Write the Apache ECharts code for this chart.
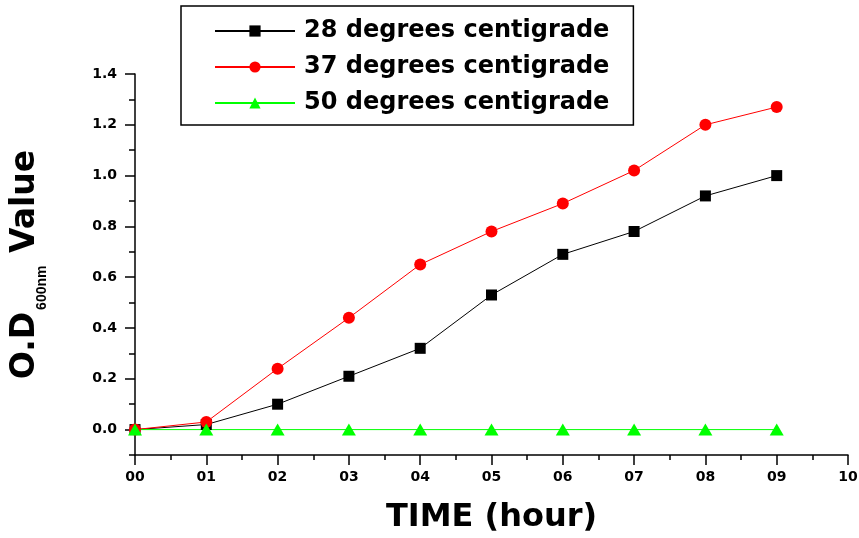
<!DOCTYPE html>
<html>
<head>
<meta charset="utf-8">
<script src="https://cdn.jsdelivr.net/npm/echarts@6/dist/echarts.min.js"></script>
<style>
  html, body { margin: 0; padding: 0; background: #fff; }
  #chart { width: 859px; height: 538px; }
</style>
</head>
<body>
<div id="chart"></div>
<script>
// Bacterial growth (optical density) over time at three temperatures
const hours = [0, 1, 2, 3, 4, 5, 6, 7, 8, 9];
const od28 = [0.00, 0.02, 0.10, 0.21, 0.32, 0.53, 0.69, 0.78, 0.92, 1.00];
const od37 = [0.00, 0.03, 0.24, 0.44, 0.65, 0.78, 0.89, 1.02, 1.20, 1.27];
const od50 = [0.00, 0.00, 0.00, 0.00, 0.00, 0.00, 0.00, 0.00, 0.00, 0.00];
const seriesNames = ['28 degrees centigrade', '37 degrees centigrade', '50 degrees centigrade'];
const yMajorTicks = [0.0, 0.2, 0.4, 0.6, 0.8, 1.0, 1.2, 1.4];

const FONT = 'DejaVu Sans';
const pair = (xs, ys) => xs.map((x, i) => [x, ys[i]]);

const chart = echarts.init(document.getElementById('chart'), null, { renderer: 'canvas' });

const axisBlack = { color: '#000', width: 1.5 };

chart.setOption({
  animation: false,
  backgroundColor: '#fff',
  grid: { left: 135, right: 11, top: 74, bottom: 83, outerBoundsMode: 'none', containLabel: false },
  legend: {
    orient: 'vertical',
    left: 181,
    top: 6,
    padding: [11, 24, 8, 33],
    itemGap: 8,
    itemWidth: 80,
    itemHeight: 14,
    borderColor: '#000',
    borderWidth: 1.5,
    textStyle: { fontFamily: FONT, fontWeight: 'bold', fontSize: 24, color: '#000', lineHeight: 28, padding: [0, 0, 0, 4] },
    data: seriesNames
  },
  xAxis: {
    type: 'value',
    min: 0,
    max: 10,
    interval: 1,
    name: 'TIME (hour)',
    nameLocation: 'middle',
    nameGap: 47,
    nameTextStyle: { fontFamily: FONT, fontWeight: 'bold', fontSize: 32, color: '#000' },
    axisLine: { onZero: false, lineStyle: axisBlack },
    axisTick: { length: 10, lineStyle: axisBlack },
    minorTick: { show: true, splitNumber: 2, length: 5, lineStyle: { color: '#000', width: 1.5 } },
    splitLine: { show: false },
    axisLabel: {
      margin: 15,
      fontFamily: FONT, fontWeight: 'bold', fontSize: 14, color: '#000',
      formatter: v => String(v).padStart(2, '0')
    }
  },
  yAxis: [
    {
      // axis line and the short 0.1-step ticks
      type: 'value',
      min: -0.1,
      max: 1.4,
      interval: 0.1,
      axisLine: { show: true, onZero: false, lineStyle: axisBlack },
      axisTick: { show: true, length: 6, lineStyle: axisBlack },
      axisLabel: { show: false },
      splitLine: { show: false }
    },
    {
      // long ticks and labels every 0.2
      type: 'value',
      position: 'left',
      min: -0.1,
      max: 1.4,
      axisLine: { show: false, onZero: false },
      axisTick: { show: true, length: 10, lineStyle: axisBlack, customValues: yMajorTicks },
      axisLabel: {
        margin: 18,
        fontFamily: FONT, fontWeight: 'bold', fontSize: 14, color: '#000',
        customValues: yMajorTicks,
        formatter: v => v.toFixed(1)
      },
      splitLine: { show: false },
      name: '{a|O.D}{b|600nm}{a| Value}',
      nameLocation: 'middle',
      nameRotate: 90,
      nameGap: 90,
      nameTextStyle: {
        rich: {
          a: { fontFamily: FONT, fontWeight: 'bold', fontSize: 33, color: '#000', lineHeight: 36, verticalAlign: 'top' },
          b: { fontFamily: 'Liberation Sans', fontWeight: 'bold', fontSize: 14, color: '#000', lineHeight: 14, padding: [26, 1, 0, 2], verticalAlign: 'top' }
        }
      }
    }
  ],
  series: [
    {
      name: seriesNames[0], type: 'line', data: pair(hours, od28),
      symbol: 'rect', symbolSize: 11,
      lineStyle: { color: '#000', width: 1 },
      itemStyle: { color: '#000' }
    },
    {
      name: seriesNames[1], type: 'line', data: pair(hours, od37),
      symbol: 'circle', symbolSize: 12,
      lineStyle: { color: '#ff0000', width: 1 },
      itemStyle: { color: '#ff0000' }
    },
    {
      name: seriesNames[2], type: 'line', data: pair(hours, od50),
      symbol: 'triangle', symbolSize: [14, 12],
      lineStyle: { color: '#00ff00', width: 1 },
      itemStyle: { color: '#00ff00' }
    }
  ]
});
</script>
</body>
</html>
